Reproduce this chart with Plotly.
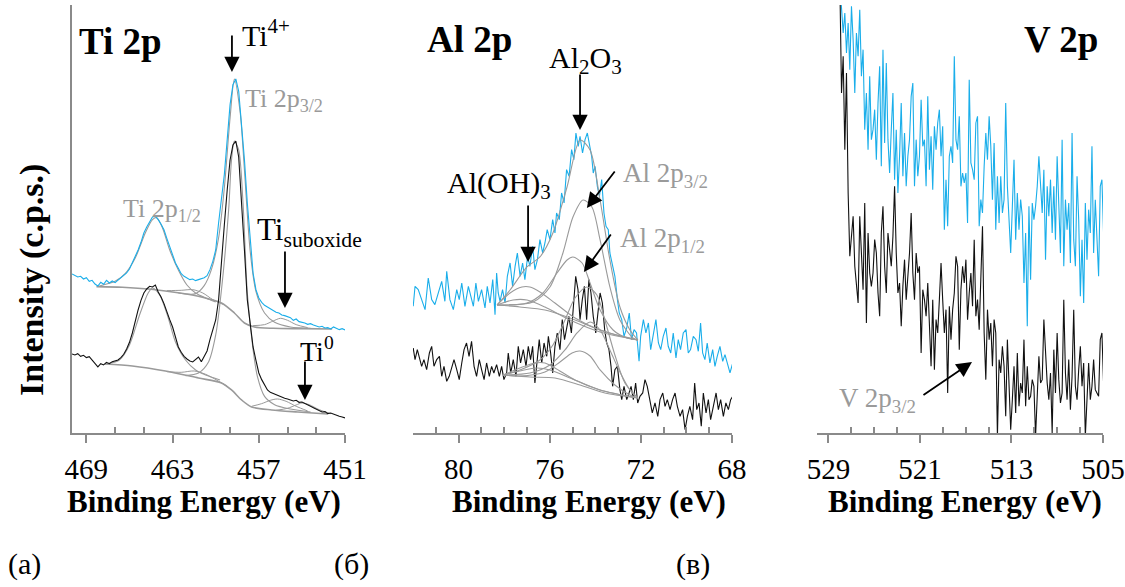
import plotly.graph_objects as go

# ---------------- Ti 2p (uniform grid: start 470.0 eV, step -0.2 eV) ----------------
TI_BE_START = 470.0
TI_BE_STEP = -0.2
ti_blue = [477, 472, 468, 470, 462, 466, 455, 458, 447, 441,
           452, 446, 458, 450, 456, 451, 458, 464, 472, 480,
           492, 510, 528, 549, 572, 600, 618, 632, 648, 650,
           640, 626, 610, 584, 560, 534, 510, 494, 478, 470,
           466, 460, 462, 457, 460, 462, 466, 472, 490, 515,
           549, 630, 700, 775, 880, 985, 1045, 1062, 1025, 930,
           820, 690, 570, 480, 430, 405, 392, 383, 378, 372,
           366, 362, 360, 354, 352, 348, 346, 338, 342, 334,
           333, 330, 326, 328, 324, 322, 318, 320, 315, 316,
           312, 318, 315, 310, 313, 309]
ti_black = [237, 234, 238, 230, 233, 226, 229, 218, 206, 198,
            208, 204, 212, 208, 214, 216, 219, 226, 236, 252,
            272, 300, 336, 369, 398, 420, 432, 440, 438, 444,
            423, 408, 388, 362, 340, 318, 290, 258, 242, 230,
            222, 216, 213, 222, 228, 214, 232, 246, 280, 312,
            339, 399, 500, 624, 729, 819, 864, 876, 828, 699,
            549, 399, 320, 258, 218, 180, 160, 142, 129, 122,
            118, 114, 112, 108, 104, 102, 100, 96, 98, 92,
            93, 88, 84, 80, 76, 72, 68, 63, 64, 58,
            60, 56, 52, 50, 48, 45]

# fitted components (binding energy, intensity)
ti_top_bg_be = [468.3, 466.5, 464.5, 462.5, 461.0, 459.6, 458.7, 458.0, 457.3, 456.0, 454.0, 451.9]
ti_top_bg_i = [439, 437, 431, 420, 408, 390, 360, 330, 318, 314, 313, 312]
ti_top_p12_be = [468.1, 467.0, 466.3, 465.6, 464.9, 464.4, 464.1, 463.7, 463.2, 462.6, 462.0, 461.4, 460.7, 460.0]
ti_top_p12_i = [441, 455, 478, 525, 600, 640, 646, 615, 549, 489, 444, 420, 405, 393]
ti_top_p32_be = [462.6, 461.4, 460.8, 460.3, 459.8, 459.4, 459.0, 458.7, 458.3, 458.0, 457.6, 457.2, 456.6, 455.9, 454.8, 453.4]
ti_top_p32_i = [420, 418, 442, 490, 585, 735, 945, 1062, 963, 789, 545, 425, 360, 332, 318, 314]
ti_top_sub32_be = [457.4, 456.6, 456.0, 455.5, 455.0, 454.4, 453.6]
ti_top_sub32_i = [322, 325, 336, 344, 338, 325, 316]
ti_top_sub12_be = [463.4, 462.4, 461.6, 460.9, 460.2, 459.5]
ti_top_sub12_i = [427, 428, 430, 420, 400, 386]

ti_bot_bg_be = [467.7, 465.8, 463.5, 461.2, 459.6, 458.9, 458.2, 457.5, 456.1, 454.3, 452.2]
ti_bot_bg_i = [207, 201, 186, 165, 150, 129, 99, 78, 69, 63, 57]
ti_bot_p12_be = [467.7, 466.7, 466.0, 465.3, 464.7, 464.4, 463.9, 463.3, 462.8, 462.1, 461.4, 460.7, 459.7]
ti_bot_p12_i = [207, 219, 264, 354, 420, 435, 414, 345, 273, 219, 189, 174, 159]
ti_bot_p32_be = [462.1, 461.2, 460.5, 460.0, 459.6, 459.1, 458.9, 458.7, 458.4, 458.1, 457.8, 457.4, 457.1, 456.6, 455.9, 454.8, 453.4]
ti_bot_p32_i = [172, 180, 213, 294, 429, 669, 819, 876, 849, 690, 420, 250, 170, 110, 85, 72, 63]
ti_bot_sub_be = [457.5, 456.8, 456.2, 455.7, 455.1, 454.4, 453.6]
ti_bot_sub_i = [80, 88, 98, 102, 95, 80, 66]
ti_bot_ti0_be = [455.8, 455.0, 454.4, 454.0, 453.5, 452.8, 452.0]
ti_bot_ti0_i = [68, 74, 84, 90, 85, 70, 58]
ti_bot_sub12_be = [463.4, 462.4, 461.5, 460.7, 459.9, 459.2]
ti_bot_sub12_i = [184, 182, 186, 176, 158, 140]

# ---------------- Al 2p ----------------
al_blue_be = [81.99, 81.91, 81.77, 81.62, 81.47, 81.33, 81.18, 81.04, 80.89, 80.74,
              80.60, 80.52, 80.38, 80.23, 80.08, 79.97, 79.86, 79.72, 79.57, 79.47,
              79.35, 79.24, 79.13, 78.99, 78.84, 78.74, 78.62, 78.50, 78.40, 78.33,
              78.26, 78.18, 78.07, 77.96, 77.86, 77.74, 77.63, 77.52, 77.42, 77.30,
              77.19, 77.09, 76.97, 76.87, 76.75, 76.65, 76.54, 76.43, 76.31, 76.21,
              76.11, 75.99, 75.87, 75.77, 75.70, 75.58, 75.48, 75.37, 75.26, 75.15,
              75.04, 74.94, 74.85, 74.75, 74.67, 74.56, 74.45, 74.35, 74.26, 74.16,
              74.09, 74.01, 73.91, 73.82, 73.72, 73.62, 73.53, 73.43, 73.36, 73.24,
              73.14, 73.03, 72.95, 72.84, 72.74, 72.62, 72.51, 72.41, 72.30, 72.19,
              72.08, 72.01, 71.89, 71.78, 71.67, 71.57, 71.45, 71.34, 71.23, 71.13,
              71.02, 70.90, 70.80, 70.69, 70.58, 70.46, 70.36, 70.26, 70.14, 70.02,
              69.92, 69.82, 69.70, 69.58, 69.48, 69.38, 69.29, 69.19, 69.09, 68.97,
              68.85, 68.75, 68.65, 68.53, 68.41, 68.31, 68.21, 68.09, 67.97]
al_blue_i = [380, 440, 430, 400, 370, 465, 400, 385, 420, 455,
             395, 485, 400, 370, 430, 400, 450, 380, 440, 410,
             380, 450, 395, 430, 375, 440, 390, 460, 355, 480,
             420, 395, 430, 390, 470, 510, 440, 500, 540, 470,
             510, 460, 530, 500, 560, 490, 520, 580, 540, 570,
             610, 580, 640, 600, 660, 640, 720, 690, 790, 770,
             850, 820, 900, 860, 890, 840, 880, 900, 860, 830,
             780, 800, 740, 710, 760, 660, 620, 610, 540, 500,
             470, 400, 360, 340, 290, 315, 360, 280, 310, 300,
             215, 290, 340, 300, 330, 250, 300, 340, 270, 250,
             290, 315, 260, 240, 300, 225, 280, 250, 300, 310,
             240, 250, 290, 280, 245, 330, 240, 220, 270, 210,
             250, 200, 230, 260, 215, 235, 210, 180, 210]
al_black_be = [81.99, 81.91, 81.81, 81.72, 81.62, 81.52, 81.40, 81.28, 81.18, 81.08,
               80.96, 80.84, 80.74, 80.64, 80.52, 80.41, 80.30, 80.20, 80.08, 79.97,
               79.86, 79.76, 79.65, 79.54, 79.43, 79.32, 79.21, 79.09, 78.99, 78.88,
               78.77, 78.65, 78.55, 78.45, 78.33, 78.21, 78.11, 78.01, 77.89, 77.82,
               77.71, 77.60, 77.48, 77.38, 77.28, 77.16, 77.04, 76.94, 76.84, 76.75,
               76.65, 76.57, 76.46, 76.35, 76.25, 76.13, 76.06, 75.96, 75.87, 75.77,
               75.67, 75.55, 75.45, 75.35, 75.26, 75.16, 75.05, 74.96, 74.86, 74.76,
               74.67, 74.57, 74.48, 74.38, 74.28, 74.19, 74.09, 73.98, 73.88, 73.79,
               73.69, 73.59, 73.50, 73.40, 73.31, 73.24, 73.14, 73.03, 72.92, 72.84,
               72.74, 72.62, 72.52, 72.43, 72.33, 72.23, 72.14, 72.04, 71.92, 71.82,
               71.72, 71.60, 71.50, 71.38, 71.26, 71.16, 71.04, 70.94, 70.84, 70.72,
               70.61, 70.50, 70.40, 70.28, 70.17, 70.06, 69.96, 69.85, 69.73, 69.64,
               69.55, 69.45, 69.35, 69.26, 69.14, 69.04, 68.94, 68.82, 68.70, 68.60,
               68.50, 68.38, 68.27, 68.16, 68.06, 67.97]
al_black_i = [255, 220, 250, 225, 200, 220, 190, 240, 260, 200,
              220, 230, 170, 200, 155, 170, 200, 220, 190, 160,
              210, 250, 270, 230, 275, 200, 170, 220, 190, 160,
              210, 170, 200, 180, 205, 170, 200, 160, 180, 240,
              180, 220, 170, 260, 210, 250, 200, 260, 220, 260,
              150, 200, 280, 210, 270, 230, 290, 240, 180, 260,
              300, 250, 340, 280, 310, 350, 300, 380, 470, 430,
              340, 400, 440, 340, 460, 420, 350, 300, 370, 420,
              390, 310, 270, 250, 200, 140, 190, 200, 130, 100,
              140, 100, 120, 140, 100, 150, 90, 110, 120, 160,
              140, 100, 60, 90, 50, 100, 120, 80, 100, 70,
              100, 120, 80, 50, 70, 10, 50, 80, 40, 150,
              70, 90, 20, 120, 60, 100, 40, 80, 120, 70,
              100, 50, 90, 70, 100, 110]

al_top_base_be = [78.31, 77.31, 76.21, 75.11, 73.79, 72.92, 72.13]
al_top_base_i = [384, 378, 369, 345, 309, 291, 279]
al_top_env_be = [78.31, 77.74, 77.0, 76.43, 75.86, 75.24, 74.67, 74.23, 73.79, 73.36, 72.92, 72.48, 72.13]
al_top_env_i = [384, 429, 498, 528, 600, 738, 879, 849, 699, 519, 378, 309, 279]
al_top_p32_be = [78.31, 76.73, 75.99, 75.42, 74.98, 74.54, 74.15, 73.79, 73.36, 72.92, 72.35, 72.13]
al_top_p32_i = [384, 393, 438, 540, 648, 699, 678, 579, 438, 339, 285, 279]
al_top_p12_be = [78.31, 77.0, 76.3, 75.68, 75.24, 74.98, 74.58, 74.23, 73.79, 73.22, 72.61, 72.13]
al_top_p12_i = [384, 390, 420, 480, 519, 528, 510, 450, 369, 309, 285, 279]
al_top_oh1_be = [78.31, 77.74, 77.22, 76.87, 76.43, 75.77, 74.89, 73.79, 72.13]
al_top_oh1_i = [384, 420, 438, 438, 423, 390, 345, 309, 279]
al_top_oh2_be = [78.31, 77.61, 77.0, 76.21, 75.11, 73.79, 72.13]
al_top_oh2_i = [384, 399, 399, 378, 339, 303, 279]

al_bot_base_be = [78.05, 76.87, 75.77, 74.67, 73.58, 72.13]
al_bot_base_i = [174, 168, 165, 144, 120, 105]
al_bot_env_be = [78.05, 77.31, 76.43, 75.86, 75.33, 74.89, 74.37, 73.93, 73.58, 73.14, 72.7, 72.13]
al_bot_env_i = [174, 189, 219, 264, 339, 405, 438, 414, 339, 234, 150, 105]
al_bot_p32_be = [78.05, 76.87, 75.99, 75.33, 74.8, 74.23, 73.79, 73.36, 72.92, 72.48, 72.13]
al_bot_p32_i = [174, 180, 204, 249, 300, 333, 309, 249, 183, 129, 105]
al_bot_p12_be = [78.05, 77.31, 76.21, 75.55, 75.02, 74.67, 74.23, 73.79, 73.14, 72.48, 72.13]
al_bot_p12_i = [174, 171, 183, 213, 240, 246, 231, 189, 144, 114, 105]
al_bot_oh1_be = [78.05, 77.31, 76.65, 76.21, 75.77, 74.89, 73.79, 72.13]
al_bot_oh1_i = [174, 195, 210, 210, 195, 159, 129, 105]
al_bot_oh2_be = [78.05, 77.31, 76.56, 75.99, 75.11, 73.79, 72.13]
al_bot_oh2_i = [174, 186, 195, 189, 165, 129, 105]

# ---------------- V 2p (uniform grid: start 528.0 eV, step -0.145 eV) ----------------
V_BE_START = 528.0
V_BE_STEP = -0.145
v_blue = [1350,
          1280, 1200, 1260, 1140, 1230, 1090, 1280, 1180, 1020, 1200,
          1130, 1270, 1070, 1150, 910, 1020, 850, 1070, 880, 910,
          970, 820, 990, 1100, 800, 1150, 870, 1110, 880, 780,
          910, 1020, 760, 910, 720, 830, 990, 770, 900, 740,
          830, 880, 1010, 1050, 740, 880, 770, 830, 1000, 860,
          880, 740, 1010, 790, 890, 730, 920, 850, 930, 970,
          830, 920, 610, 760, 620, 830, 860, 810,
          1130, 880, 850, 950, 740, 780, 750, 780, 630, 1060,
          810, 790, 760, 930, 950, 620, 700, 660, 800, 900,
          820, 950, 860, 700, 870, 610, 770, 630, 770, 660,
          700, 990, 740, 650, 540, 680, 820, 580, 720, 610,
          700, 650, 450, 600, 320, 680, 460, 690, 640, 680,
          740, 830, 740, 660, 790, 520, 740, 650, 760, 600,
          740, 580, 830, 700, 540, 880, 500, 700, 610, 690,
          510, 900, 580, 500, 770, 640, 410, 580, 390, 690,
          520, 670, 600, 860, 540, 700, 580, 470, 740, 760,
          600]
v_black = [1350,
           1020, 1130, 850, 1080, 720, 530, 600, 650, 500, 440,
           390, 650, 520, 430, 690, 330, 600, 480, 440, 480,
           580, 540, 420, 350, 600, 680, 500, 420, 600, 540,
           500, 590, 740, 540, 420, 450, 320, 440, 520, 400,
           470, 540, 660, 480, 400, 540, 480, 500, 240, 430,
           400, 350, 450, 300, 200, 400, 190, 340, 300, 400,
           510, 400, 300, 370, 120, 380, 280, 370,
           420, 530, 500, 250, 430, 500, 450, 520, 340, 420,
           480, 380, 580, 350, 400, 310, 440, 620, 300, 160,
           370, 280, 330, 200, 340, 300, -10, 220, 180, 260,
           200, 50, 280, 120, 10, 100, 200, 60, 240, 80,
           150, 120, 280, 80, 200, 100, 110, 160, 140, -10,
           120, 230, 150, 160, 340, 220, 150, 100, 180, 0,
           250, 120, 300, 160, 90, 120, 400, 180, 100, 220,
           70, 170, 370, 140, 100, 190, 260, 140, 210, -10,
           120, 210, 100, 140, 220, 130, 120, 110, 280, 300,
           150]

# ---------------- styling ----------------
BLUE = "#1aaeea"
BLACK = "#111111"
GRAY = "#9a9a9a"
AXC = "#8a8a8a"
SERIF = "Liberation Serif, Times New Roman, serif"

fig = go.Figure()


def add_line(x, y, ax, color, width, spline=False):
    fig.add_trace(go.Scatter(
        x=x, y=y, mode="lines", xaxis="x" + ax, yaxis="y" + ax,
        line=dict(color=color, width=width, shape="spline" if spline else "linear",
                  smoothing=0.8),
        hoverinfo="skip", showlegend=False))


def add_uniform(y, x0, dx, ax, color, width):
    fig.add_trace(go.Scatter(
        y=y, x0=x0, dx=dx, mode="lines", xaxis="x" + ax, yaxis="y" + ax,
        line=dict(color=color, width=width), hoverinfo="skip", showlegend=False))


# Ti grey fits
for bx, by, w in [(ti_top_bg_be, ti_top_bg_i, 1.6), (ti_top_p12_be, ti_top_p12_i, 1.1),
                  (ti_top_p32_be, ti_top_p32_i, 1.1), (ti_top_sub32_be, ti_top_sub32_i, 1.0),
                  (ti_top_sub12_be, ti_top_sub12_i, 1.0),
                  (ti_bot_bg_be, ti_bot_bg_i, 1.6), (ti_bot_p12_be, ti_bot_p12_i, 1.1),
                  (ti_bot_p32_be, ti_bot_p32_i, 1.1), (ti_bot_sub_be, ti_bot_sub_i, 1.0),
                  (ti_bot_ti0_be, ti_bot_ti0_i, 1.0), (ti_bot_sub12_be, ti_bot_sub12_i, 1.0)]:
    add_line(bx, by, "", GRAY, w, spline=True)
add_uniform(ti_blue, TI_BE_START, TI_BE_STEP, "", BLUE, 1.1)
add_uniform(ti_black, TI_BE_START, TI_BE_STEP, "", BLACK, 1.1)

# Al spectra + grey fits
add_line(al_blue_be, al_blue_i, "2", BLUE, 1.1)
add_line(al_black_be, al_black_i, "2", BLACK, 1.1)
for bx, by in [(al_top_base_be, al_top_base_i), (al_top_env_be, al_top_env_i),
               (al_top_p32_be, al_top_p32_i), (al_top_p12_be, al_top_p12_i),
               (al_top_oh1_be, al_top_oh1_i), (al_top_oh2_be, al_top_oh2_i),
               (al_bot_base_be, al_bot_base_i), (al_bot_env_be, al_bot_env_i),
               (al_bot_p32_be, al_bot_p32_i), (al_bot_p12_be, al_bot_p12_i),
               (al_bot_oh1_be, al_bot_oh1_i), (al_bot_oh2_be, al_bot_oh2_i)]:
    add_line(bx, by, "2", GRAY, 1.1, spline=True)

# V spectra
add_uniform(v_blue, V_BE_START, V_BE_STEP, "3", BLUE, 1.1)
add_uniform(v_black, V_BE_START, V_BE_STEP, "3", BLACK, 1.1)

YDOM = [0.2624, 0.9915]
YR = [0, 1284]


def xaxis(domain, rng, major, minor, anchor):
    return dict(domain=domain, range=rng, anchor=anchor, automargin=False, showline=True,
                linecolor=AXC, linewidth=2, ticks="outside", ticklen=8, tickwidth=2,
                tickcolor=AXC, tickvals=major, ticktext=[str(v) for v in major],
                ticklabelstandoff=1,
                minor=dict(tickvals=minor, ticks="inside", ticklen=6, tickwidth=1.6,
                           tickcolor=AXC),
                showgrid=False, zeroline=False,
                tickfont=dict(family=SERIF, size=29, color="black"))


layout = dict(
    width=1125, height=587, margin=dict(l=0, r=0, t=0, b=0, autoexpand=False),
    paper_bgcolor="white", plot_bgcolor="rgba(0,0,0,0)",
    xaxis=xaxis([0.0640, 0.3067], [470, 451], [469, 463, 457, 451],
                [467, 465, 461, 459, 455, 453], "y"),
    xaxis2=xaxis([0.3671, 0.6507], [82, 68], [80, 76, 72, 68],
                 [81, 79, 78, 77, 75, 74, 73, 71, 70, 69], "y2"),
    xaxis3=xaxis([0.7262, 0.9804], [530, 505], [529, 521, 513, 505],
                 [527, 525, 523, 519, 517, 515, 511, 509, 507], "y3"),
    yaxis=dict(domain=YDOM, range=YR, anchor="x", automargin=False, showline=True,
               linecolor=AXC, linewidth=2, ticks="", showticklabels=False,
               showgrid=False, zeroline=False),
    yaxis2=dict(domain=YDOM, range=YR, anchor="x2", visible=False, automargin=False),
    yaxis3=dict(domain=YDOM, range=YR, anchor="x3", visible=False, automargin=False),
)
fig.update_layout(**layout)

ann = []


def text(ax, x, y, t, size, color="black", bold=False):
    ann.append(dict(xref="x" + ax, yref="y" + ax, x=x, y=y, text=("<b>%s</b>" % t) if bold else t,
                    showarrow=False, xanchor="center", yanchor="middle",
                    font=dict(family=SERIF, size=size, color=color)))


def arrow(ax, x, y, dx, dy):
    ann.append(dict(xref="x" + ax, yref="y" + ax, x=x, y=y, text="", showarrow=True,
                    ax=dx, ay=dy, arrowhead=2, arrowsize=1.7, arrowwidth=1.8,
                    arrowcolor="black", standoff=0, startstandoff=0))


# Ti panel
text("", 466.66, 1173, "Ti 2p", 37, bold=True)
text("", 456.5, 1200, "Ti<sup>4+</sup>", 30)
text("", 455.25, 999, "Ti 2p<sub>3/2</sub>", 26, GRAY)
text("", 463.74, 669, "Ti 2p<sub>1/2</sub>", 26, GRAY)
text("", 453.5, 603, "Ti<sub>suboxide</sub>", 31)
text("", 452.95, 249, "Ti<sup>0</sup>", 28)
arrow("", 458.87, 1083, 0, -38)
arrow("", 455.18, 375, 0, -58)
arrow("", 453.79, 99, 0, -40)

# Al panel
text("2", 79.5, 1179, "Al 2p", 37, bold=True)
text("2", 74.45, 1119, "Al<sub>2</sub>O<sub>3</sub>", 30)
text("2", 78.23, 744, "Al(OH)<sub>3</sub>", 30)
text("2", 70.94, 774, "Al 2p<sub>3/2</sub>", 27, GRAY)
text("2", 71.07, 579, "Al 2p<sub>1/2</sub>", 27, GRAY)
arrow("2", 74.67, 909, 0, -57)
arrow("2", 76.95, 513, 0, -58)
arrow("2", 74.37, 675, 29, -38)
arrow("2", 74.5, 483, 28, -39)

# V panel
text("3", 508.67, 1179, "V 2p", 37, bold=True)
text("3", 524.67, 99, "V 2p<sub>3/2</sub>", 27, GRAY)
arrow("3", 516.45, 213, -50, 34)

# axis titles & panel letters
for xc in [0.1813, 0.5236, 0.8578]:
    ann.append(dict(xref="paper", yref="paper", x=xc, y=0.1465, showarrow=False,
                    xanchor="center", yanchor="middle",
                    text="<b>Binding Energy (eV)</b>",
                    font=dict(family=SERIF, size=31, color="black")))
ann.append(dict(xref="paper", yref="paper", x=0.0284, y=0.523, showarrow=False, textangle=-90,
                xanchor="center", yanchor="middle",
                text="<b>Intensity (c.p.s.)</b>", font=dict(family=SERIF, size=34, color="black")))
for xc, t in [(0.0222, "(a)"), (0.312, "(б)"), (0.616, "(в)")]:
    ann.append(dict(xref="paper", yref="paper", x=xc, y=0.040, showarrow=False, text=t,
                    xanchor="center", yanchor="middle",
                    font=dict(family=SERIF, size=30, color="black")))

fig.update_layout(annotations=ann)
fig.write_html("out.html", config={"displayModeBar": False},
               post_script="document.body.style.margin='0px';")
